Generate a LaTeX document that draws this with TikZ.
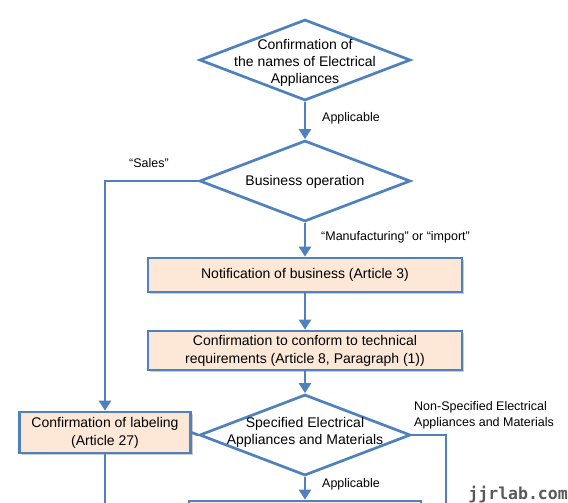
\documentclass[tikz,border=0pt]{standalone}
\usepackage{fontspec}
\setmainfont{Liberation Sans}
\newfontfamily\wmfont{DejaVu Sans Mono}
\usetikzlibrary{arrows.meta,shapes.geometric,shadows}
\definecolor{flowBlue}{RGB}{79,129,189}
\definecolor{boxFill}{RGB}{253,232,216}
\newcommand*{\xMid}{305}
\newcommand*{\xLeft}{105}
\newcommand*{\xRight}{446}
\newcommand*{\yMax}{515}

\begin{document}
\begin{tikzpicture}[x=1pt, y=-1pt,
	flowline/.style={draw=flowBlue, line width=2.7pt},
	flowarrow/.style={flowline, -{Triangle[width=12pt,length=10pt]}},
	decision/.style={diamond, draw=flowBlue, line width=2.7pt, fill=white, minimum width=211pt, minimum height=81pt, inner sep=0pt},
	dtext/.style={align=center, inner sep=0pt, font=\fontsize{14}{17}\selectfont},
	stepbox/.style={rectangle, draw=flowBlue, line width=2.7pt, fill=boxFill, align=center, inner sep=0pt, font=\fontsize{14}{18}\selectfont, drop shadow={shadow xshift=2pt, shadow yshift=-2pt, opacity=0.4}},
	note/.style={inner sep=0pt, align=left, font=\fontsize{12.5}{16}\selectfont}]
	\useasboundingbox (0,0) rectangle (568,503);
	\node [decision] (names) at (\xMid,60) {};
	\node [dtext] (namesText) at (\xMid,62.5) {Confirmation of\\the names of Electrical\\Appliances};
	\node [decision] (business) at (\xMid,181) {};
	\node [dtext] (businessText) at (\xMid,182) {Business operation};
	\node [stepbox, minimum width=314pt, minimum height=34pt] (notify) at (\xMid,275) {Notification of business (Article 3)};
	\node [stepbox, minimum width=314pt, minimum height=39pt] (techReq) at (\xMid,350.5) {Confirmation to conform to technical\\requirements (Article 8, Paragraph (1))};
	\node [decision] (specified) at (\xMid,435) {};
	\node [dtext] (specifiedText) at (\xMid,432.5) {Specified Electrical\\Appliances and Materials};
	\node [stepbox, minimum width=171pt, minimum height=41pt] (labeling) at (\xLeft,432.5) {Confirmation of labeling\\(Article 27)};
	\node [stepbox, minimum width=232pt, minimum height=40pt] (next) at (\xMid,521) {};
	\coordinate (labelingEnd) at (\xLeft,\yMax);
	\coordinate (nonSpecEnd) at (\xRight,\yMax);
	\node [note, anchor=west] (applicableA) at (322,118) {Applicable};
	\node [note] (sales) at (149,163) {``Sales''};
	\node [note, anchor=west] (manufacturing) at (321,237) {``Manufacturing'' or ``import''};
	\node [note, anchor=west] (nonSpec) at (414,415) {Non-Specified Electrical\\Appliances and Materials};
	\node [note, anchor=west] (applicableB) at (322,484) {Applicable};
	\node [anchor=base east, inner sep=0pt, text=black!65, font=\wmfont\bfseries\fontsize{16.5}{16.5}\selectfont] (watermark) at (568,499) {jjrlab.com};
	\path [flowarrow] (names) -- (business);
	\path [flowarrow] (business.west) -| (labeling.north);
	\path [flowarrow] (business) -- (notify);
	\path [flowarrow] (notify) -- (techReq);
	\path [flowarrow] (techReq) -- (specified);
	\path [flowline] (specified.west) -- (labeling.east);
	\path [flowline] (labeling.south) -- (labelingEnd);
	\path [flowline] (specified.east) -| (nonSpecEnd);
	\path [flowarrow] (specified) -- (next);
\end{tikzpicture}
\end{document}
